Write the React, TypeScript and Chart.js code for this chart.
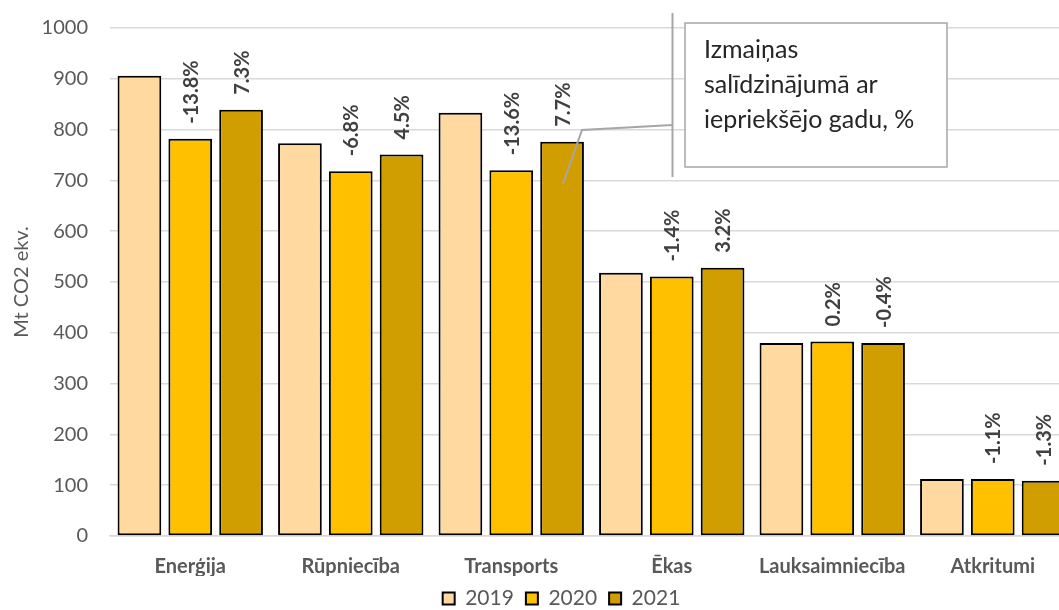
import React, { useEffect, useRef } from "react";
import { Chart, registerables } from "chart.js";

Chart.register(...registerables);

const categories = ["Enerģija", "Rūpniecība", "Transports", "Ēkas", "Lauksaimniecība", "Atkritumi"];
const seriesNames = ["2019", "2020", "2021"];
const v2019 = [906, 773, 833, 518, 380, 112];
const v2020 = [782, 718, 720, 511, 383, 112];
const v2021 = [839, 751, 776, 528, 380, 109];
const pct2020 = ["-13.8%", "-6.8%", "-13.6%", "-1.4%", "0.2%", "-1.1%"];
const pct2021 = ["7.3%", "4.5%", "7.7%", "3.2%", "-0.4%", "-1.3%"];
const annotationLines = ["Izmaiņas", "salīdzinājumā ar", "iepriekšējo gadu, %"];
const yAxisTitle = "Mt CO2 ekv.";

const colors = ["#FFD9A0", "#FFC000", "#D09E00"];
const FONT = "Lato, 'Open Sans', sans-serif";

const pctPlugin = {
  id: "pctLabels",
  afterDatasetsDraw(chart: any) {
    const ctx = chart.ctx;
    const sets = [
      { idx: 1, labels: pct2020 },
      { idx: 2, labels: pct2021 },
    ];
    ctx.save();
    ctx.fillStyle = "#404040";
    ctx.font = `bold 20px ${FONT}`;
    ctx.textAlign = "left";
    ctx.textBaseline = "middle";
    for (const s of sets) {
      const meta = chart.getDatasetMeta(s.idx);
      meta.data.forEach((bar: any, j: number) => {
        ctx.save();
        ctx.translate(bar.x + 1, bar.y - 15);
        ctx.rotate(-Math.PI / 2);
        ctx.fillText(s.labels[j], 0, 0);
        ctx.restore();
      });
    }
    ctx.restore();
  },
};

const annotationPlugin = {
  id: "calloutBox",
  afterDraw(chart: any) {
    const ctx = chart.ctx;
    ctx.save();
    ctx.strokeStyle = "#A6A6A6";
    ctx.lineWidth = 2;
    ctx.beginPath();
    ctx.moveTo(672.5, 13);
    ctx.lineTo(672.5, 177);
    ctx.stroke();
    ctx.beginPath();
    ctx.moveTo(672.5, 125);
    ctx.lineTo(582, 130);
    ctx.lineTo(563, 184);
    ctx.stroke();
    ctx.fillStyle = "#ffffff";
    ctx.fillRect(685, 23, 262, 144);
    ctx.lineWidth = 1.5;
    ctx.strokeRect(685, 23, 262, 144);
    ctx.fillStyle = "#262626";
    ctx.font = `25px ${FONT}`;
    ctx.textAlign = "left";
    ctx.textBaseline = "middle";
    annotationLines.forEach((t, i) => ctx.fillText(t, 704, 50 + i * 35));
    ctx.restore();
  },
};

const legendShift = {
  id: "legendShift",
  afterLayout(chart: any) {
    const lg = chart.legend;
    if (lg) {
      lg.left += 25;
      lg.right += 25;
    }
  },
};

export default function App() {
  const ref = useRef<HTMLCanvasElement>(null);
  useEffect(() => {
    if (!ref.current) return;
    const data = [v2019, v2020, v2021];
    const chart = new Chart(ref.current, {
      type: "bar",
      data: {
        labels: categories,
        datasets: seriesNames.map((n, i) => ({
          label: n,
          data: data[i],
          backgroundColor: colors[i],
          borderColor: "#000000",
          borderWidth: 2,
          borderSkipped: false,
          categoryPercentage: 0.95,
          barPercentage: 0.86,
        })),
      },
      options: {
        responsive: false,
        animation: false,
        layout: { padding: { top: 16, right: 17, left: 0, bottom: 0 } },
        plugins: {
          legend: {
            position: "bottom",
            labels: {
              boxWidth: 12,
              boxHeight: 12,
              color: "#595959",
              font: { family: FONT, size: 21 },
              padding: 12,
            },
          },
          tooltip: { enabled: false },
        },
        scales: {
          x: {
            afterFit: (s: any) => {
              s.height = 40;
            },
            grid: { display: false, drawTicks: false },
            border: { display: true, color: "#D9D9D9", width: 1.5 },
            ticks: {
              color: "#595959",
              font: { family: FONT, size: 20, weight: "bold" },
              padding: 19,
              autoSkip: false,
              maxRotation: 0,
            },
          },
          y: {
            min: 0,
            max: 1000,
            afterFit: (s: any) => {
              s.width = 110;
            },
            grid: { color: "#D9D9D9", lineWidth: 1.5, drawTicks: false },
            border: { display: false },
            ticks: {
              stepSize: 100,
              color: "#595959",
              font: { family: FONT, size: 20, lineHeight: 0.6 },
              padding: 22,
              callback: (v: any) => String(v),
            },
            title: {
              display: true,
              text: yAxisTitle,
              color: "#595959",
              font: { family: FONT, size: 20 },
              padding: { top: 10, bottom: 0 },
            },
          },
        },
      },
      plugins: [pctPlugin, annotationPlugin, legendShift],
    });
    return () => chart.destroy();
  }, []);
  return (
    <div style={{ position: "absolute", left: 0, top: 0, width: 1059, height: 610, overflow: "hidden", background: "#fff" }}>
      <canvas ref={ref} width={1090} height={619} style={{ display: "block" }} />
    </div>
  );
}
